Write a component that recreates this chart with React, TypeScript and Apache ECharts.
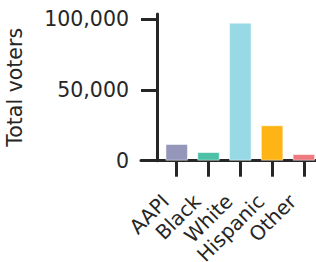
import React, { useEffect, useRef } from "react";
import * as echarts from "echarts";

const categories = ["AAPI", "Black", "White", "Hispanic", "Other"];
const totalVoters = [11800, 6100, 97400, 25000, 4700];
const barColors = ["#9597BA", "#4DC1A8", "#98D9E6", "#FFB415", "#EE7A80"];
const yTicks = [0, 50000, 100000];
const yAxisTitle = "Total voters";

const INK = "#262626";
const FONT = "DejaVu Sans";

export default function App() {
  const ref = useRef<HTMLDivElement>(null);
  useEffect(() => {
    if (!ref.current) return;
    const chart = echarts.init(ref.current, undefined, { renderer: "svg" });
    chart.setOption({
      animation: false,
      grid: [
        { left: 160.8, right: -3.8, top: 14, bottom: 101.3, containLabel: false, outerBoundsMode: "none" },
        { left: 141, right: 0, top: 14, bottom: 101.3, containLabel: false, outerBoundsMode: "none" },
      ],
      xAxis: [
        {
          type: "category",
          gridIndex: 0,
          data: categories,
          axisLine: { show: false },
          axisTick: { show: true, alignWithLabel: true, length: 16, lineStyle: { color: INK, width: 3 } },
          axisLabel: {
            interval: 0,
            rotate: 45,
            align: "right",
            verticalAlign: "bottom",
            margin: 40,
            padding: [0, 6, 0, 0],
            color: INK,
            fontFamily: FONT,
            fontSize: 20,
            lineHeight: 20,
          },
        },
        {
          type: "value",
          gridIndex: 1,
          min: 0,
          max: 1,
          splitLine: { show: false },
          axisLine: { show: true, onZero: false, lineStyle: { color: INK, width: 3 } },
          axisTick: { show: false },
          axisLabel: { show: false },
        },
      ],
      yAxis: [
        {
          type: "value",
          gridIndex: 0,
          min: 0,
          max: 103500,
          offset: 3.8,
          name: yAxisTitle,
          nameLocation: "middle",
          nameGap: 132,
          nameTextStyle: { color: INK, fontFamily: FONT, fontSize: 20.5 },
          splitLine: { show: false },
          axisLine: { show: true, onZero: false, lineStyle: { color: INK, width: 3 } },
          axisTick: { show: true, customValues: yTicks, length: 16, lineStyle: { color: INK, width: 3 } },
          axisLabel: {
            customValues: yTicks,
            margin: 28,
            color: INK,
            fontFamily: FONT,
            fontSize: 20.5,
            formatter: (v: number) => v.toLocaleString("en-US"),
          },
        },
        {
          type: "value",
          gridIndex: 1,
          min: 0,
          max: 1,
          show: false,
        },
      ],
      series: [
        {
          type: "bar",
          xAxisIndex: 0,
          yAxisIndex: 0,
          barWidth: 22.5,
          data: totalVoters.map((v, i) => ({
            value: v,
            itemStyle: { color: barColors[i], borderColor: "rgba(255,255,255,0.5)", borderWidth: 1 },
          })),
        },
      ],
    });
    return () => chart.dispose();
  }, []);
  return <div ref={ref} style={{ width: 316, height: 262, position: "absolute", left: 0, top: 0 }} />;
}
